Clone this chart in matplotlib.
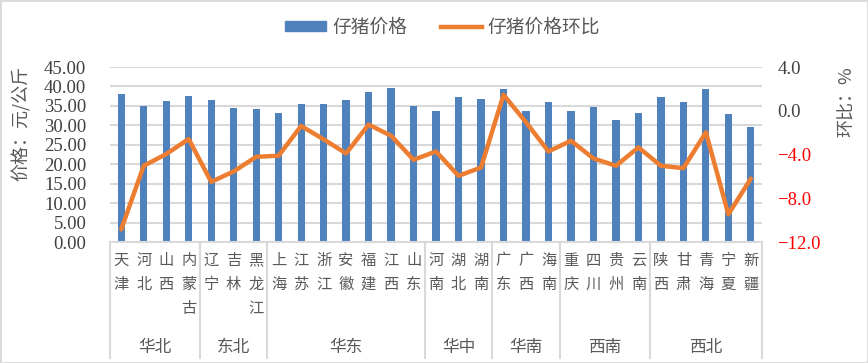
import matplotlib
matplotlib.use("Agg")
import matplotlib.pyplot as plt
import matplotlib.transforms as mtransforms
from matplotlib.patches import Patch, Rectangle
from matplotlib.lines import Line2D

# 省份、大区与数值
provinces = ["天津", "河北", "山西", "内蒙古",
             "辽宁", "吉林", "黑龙江",
             "上海", "江苏", "浙江", "安徽", "福建", "江西", "山东",
             "河南", "湖北", "湖南",
             "广东", "广西", "海南",
             "重庆", "四川", "贵州", "云南",
             "陕西", "甘肃", "青海", "宁夏", "新疆"]
regions = ["华北", "东北", "华东", "华中", "华南", "西南", "西北"]
region_sizes = [4, 3, 7, 3, 3, 4, 5]

price = [38.0, 35.1, 36.2, 37.5,
         36.4, 34.4, 34.1,
         33.1, 35.4, 35.4, 36.4, 38.5, 39.5, 35.1,
         33.8, 37.2, 36.9,
         39.3, 33.6, 35.9,
         33.8, 34.6, 31.5, 33.1,
         37.2, 35.9, 39.3, 32.8, 29.5]
mom = [-10.85, -5.03, -3.96, -2.58,
       -6.50, -5.55, -4.21,
       -4.11, -1.39, -2.61, -3.90, -1.27, -2.28, -4.48,
       -3.72, -5.95, -5.19,
       1.46, -1.05, -3.72,
       -2.74, -4.36, -5.03, -3.35,
       -5.03, -5.25, -1.97, -9.47, -6.20]

cjk = ["Noto Sans CJK SC", "DejaVu Sans"]
num_font = ["Liberation Serif", "DejaVu Serif"]
text_color = "#595959"
grid_color = "#D9D9D9"
bar_color = "#4F81BD"
line_color = "#ED7D31"

plt.rcParams["font.family"] = cjk

fig = plt.figure(figsize=(8.68, 3.63), dpi=100)
ax = fig.add_axes([0.1267, 0.3333, 0.7513, 0.4821])
ax2 = ax.twinx()

x = list(range(len(provinces)))
ax.bar(x, price, width=0.32, color=bar_color, zorder=2)
ax.set_ylim(0, 45)
left_ticks = [0, 5, 10, 15, 20, 25, 30, 35, 40, 45]
ax.set_yticks(left_ticks)
ax.set_yticklabels([f"{v:.2f}" for v in left_ticks])
for lab in ax.get_yticklabels():
    lab.set_family(num_font)
    lab.set_fontsize(13.5)
    lab.set_color("#404040")
ax.set_xlim(-0.5, len(provinces) - 0.5)
ax.set_xticks([])
ax.grid(axis="y", color=grid_color, linewidth=1.5, zorder=0)
ax.set_axisbelow(True)
ax.tick_params(axis="y", length=0, pad=17)
for s in ["top", "left", "right"]:
    ax.spines[s].set_visible(False)
ax.spines["bottom"].set_color(grid_color)
ax.spines["bottom"].set_linewidth(1.5)
ax.set_ylabel("价格：元/公斤", fontsize=13, color=text_color)
ax.yaxis.set_label_coords(-0.122, 0.68)

ax2.plot(x, mom, color=line_color, linewidth=3.2, solid_capstyle="round",
         solid_joinstyle="round")
ax2.set_ylim(-12, 4)
right_ticks = [-12, -8, -4, 0, 4]
ax2.set_yticks(right_ticks)
ax2.set_yticklabels([f"{v:.1f}".replace("-", "\u2212") for v in right_ticks])
for lab, v in zip(ax2.get_yticklabels(), right_ticks):
    lab.set_family(num_font)
    lab.set_fontsize(13.5)
    lab.set_color("red" if v < 0 else "#404040")
ax2.tick_params(axis="y", length=0, pad=11)
for s in ["top", "left", "right", "bottom"]:
    ax2.spines[s].set_visible(False)
ax2.set_ylabel("环比：%", fontsize=13, color=text_color, rotation=90)
ax2.yaxis.set_label_coords(1.116, 0.80)

# 多级分类横轴
trans = mtransforms.blended_transform_factory(ax.transData, ax.transAxes)
for i, name in enumerate(provinces):
    ax.text(i, -0.055, "\n".join(name), transform=trans, ha="center", va="top",
            fontsize=11, color=text_color, linespacing=1.55)

bounds = [-0.5]
for n in region_sizes:
    bounds.append(bounds[-1] + n)
for b in bounds:
    ax.plot([b, b], [0, -0.665], transform=trans, color=grid_color,
            linewidth=1.5, clip_on=False)
for r, lo, hi in zip(regions, bounds[:-1], bounds[1:]):
    ax.text((lo + hi) / 2, -0.60, r, transform=trans, ha="center", va="center",
            fontsize=12, color=text_color)

handles = [Patch(color=bar_color), Line2D([], [], color=line_color, linewidth=3.2)]
fig.legend(handles, ["仔猪价格", "仔猪价格环比"], loc="center", ncol=2,
           bbox_to_anchor=(0.51, 0.925), frameon=False, fontsize=13.5,
           labelcolor=text_color, handlelength=2.2, handleheight=0.5,
           handletextpad=0.3, columnspacing=1.8)

fig.patches.append(Rectangle((0, 0), 1, 1, transform=fig.transFigure, fill=False,
                             edgecolor=grid_color, linewidth=2))

fig.savefig("out.png", dpi=100)
